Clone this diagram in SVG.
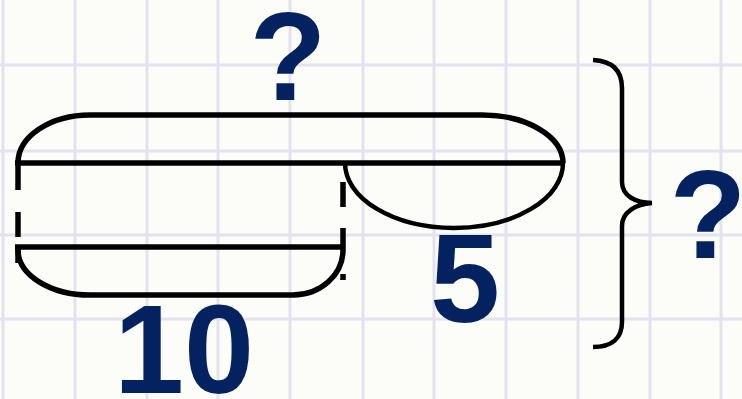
<svg xmlns="http://www.w3.org/2000/svg" width="742" height="399" viewBox="0 0 742 399">
<style>
.grid line{stroke:#e3e2ee;stroke-width:3}
.ln{fill:none;stroke:#000;stroke-width:5.5;stroke-linecap:butt}
.thin{fill:none;stroke:#000;stroke-width:4.5}
.lbl{font-family:"Liberation Sans",Arial,sans-serif;font-weight:bold;font-size:126px;fill:#03225f;text-anchor:middle}
</style>
<rect width="742" height="399" fill="#fcfcf8"/>
<g class="grid" id="grid">
<line x1="3" y1="0" x2="3" y2="399"/><line x1="75" y1="0" x2="75" y2="399"/><line x1="147" y1="0" x2="147" y2="399"/><line x1="218" y1="0" x2="218" y2="399"/><line x1="290" y1="0" x2="290" y2="399"/><line x1="363" y1="0" x2="363" y2="399"/><line x1="434" y1="0" x2="434" y2="399"/><line x1="506" y1="0" x2="506" y2="399"/><line x1="578" y1="0" x2="578" y2="399"/><line x1="650" y1="0" x2="650" y2="399"/><line x1="721" y1="0" x2="721" y2="399"/>
<line x1="0" y1="65" x2="742" y2="65"/><line x1="0" y1="151" x2="742" y2="151"/><line x1="0" y1="235" x2="742" y2="235"/><line x1="0" y1="319" x2="742" y2="319"/>
</g>
<g id="connectors">
<path id="top-bracket" class="ln" d="M18,163 A72,48 0 0 1 90,115 L482,115 A81,48 0 0 1 563,163"/>
<line id="top-line" class="ln" x1="15" y1="163" x2="563" y2="163"/>
<path id="left-dashes" class="ln" d="M18,163 V190 M18,212 V237 M18,247 V263"/>
<line id="mid-line" class="ln" x1="15" y1="247" x2="345" y2="247"/>
<path id="bottom-bracket" class="ln" d="M18,250 A72,45 0 0 0 90,295 L293,295 A50,45 0 0 0 343,250"/>
<path id="right-dashes" class="ln" d="M343,182 V207 M343,228 V250 M343,274 V280"/>
<path id="half-ellipse" class="thin" d="M345,163 A109,65 0 0 0 563,163"/>
<path id="brace" class="thin" d="M593,60 C612,61 622,70 622,88 L622,182 C622,196 636,203 652,203 C636,204 622,212 622,226 L622,322 C622,338 612,347 593,347"/>
</g>
<g id="label-top"><text class="lbl" x="288" y="100">?</text></g>
<g id="label-right"><text class="lbl" x="708" y="258">?</text></g>
<g id="label-10"><text class="lbl" x="184" y="393">10</text></g>
<g id="label-5"><text class="lbl" x="465" y="322">5</text></g>
</svg>
